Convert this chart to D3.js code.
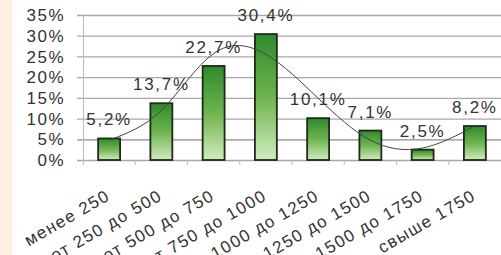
<!DOCTYPE html>
<html>
<head>
<meta charset="utf-8">
<script src="https://d3js.org/d3.v7.min.js"></script>
<style>
  body { margin: 0; background: #fff; }
  text { font-family: 'Liberation Sans', Arial, sans-serif; fill: #333; }
</style>
</head>
<body>
<div id="viz"></div>
<script>
// data
var categories = ["менее 250", "от 250 до 500", "от 500 до 750", "от 750 до 1000",
  "от 1000 до 1250", "от 1250 до 1500", "от 1500 до 1750", "свыше 1750"];
var shares = [5.2, 13.7, 22.7, 30.4, 10.1, 7.1, 2.5, 8.2];
var valueLabels = ["5,2%", "13,7%", "22,7%", "30,4%", "10,1%", "7,1%", "2,5%", "8,2%"];
// smoothed trend line, read at each category centre
var trend = [4.8, 12.0, 25.7, 25.5, 14.9, 4.8, 2.9, 8.2];
var yTicks = [0, 5, 10, 15, 20, 25, 30, 35];

var width = 501, height = 255;

var svg = d3.select("#viz").append("svg")
  .attr("width", width)
  .attr("height", height);

// peach strip on the left edge
svg.append("rect")
  .attr("x", 0).attr("y", 0)
  .attr("width", 12).attr("height", height)
  .attr("fill", "#fdf0e3");

var x = d3.scaleBand()
  .domain(categories)
  .range([83, 501])
  .paddingInner(0.58)
  .paddingOuter(0.29);

var y = d3.scaleLinear()
  .domain([0, 35])
  .range([160, 15]);

var grad = svg.append("defs").append("linearGradient")
  .attr("id", "barGrad")
  .attr("x1", 0).attr("y1", 0).attr("x2", 0).attr("y2", 1);
grad.append("stop").attr("offset", "0%").attr("stop-color", "#2f8a2c");
grad.append("stop").attr("offset", "50%").attr("stop-color", "#6fb350");
grad.append("stop").attr("offset", "100%").attr("stop-color", "#d2ecbf");

// gridlines
svg.append("g")
  .selectAll("line")
  .data(yTicks)
  .enter().append("line")
  .attr("x1", 77).attr("x2", 501)
  .attr("y1", function(d) { return y(d) + 0.5; })
  .attr("y2", function(d) { return y(d) + 0.5; })
  .attr("stroke", function(d) { return d == 5 ? "#8a8a8a" : "#a8a8a8"; })
  .attr("stroke-width", 1.3);

// y axis line
svg.append("line")
  .attr("x1", 83.5).attr("x2", 83.5)
  .attr("y1", y(35)).attr("y2", y(0) + 5)
  .attr("stroke", "#bbb");

// category tick marks between bars
svg.append("g")
  .selectAll("line")
  .data(categories.slice(1))
  .enter().append("line")
  .attr("x1", function(d) { return x(d) - x.step() * x.paddingInner() / 2; })
  .attr("x2", function(d) { return x(d) - x.step() * x.paddingInner() / 2; })
  .attr("y1", y(0)).attr("y2", y(0) + 5)
  .attr("stroke", "#bbb");

// y labels
svg.append("g")
  .selectAll("text")
  .data(yTicks)
  .enter().append("text")
  .attr("x", 65)
  .attr("y", function(d) { return y(d); })
  .attr("dy", "0.36em")
  .attr("text-anchor", "end")
  .style("font-size", "17px")
  .style("letter-spacing", "1.5px")
  .text(function(d) { return d + "%"; });

// bars
svg.append("g")
  .selectAll("rect")
  .data(shares)
  .enter().append("rect")
  .attr("x", function(d, i) { return x(categories[i]); })
  .attr("y", function(d) { return y(d); })
  .attr("width", x.bandwidth())
  .attr("height", function(d) { return y(0) - y(d); })
  .attr("fill", "url(#barGrad)")
  .attr("stroke", "#1c2a18")
  .attr("stroke-width", 1.8);

// trend curve
var line = d3.line()
  .x(function(d, i) { return x(categories[i]) + x.bandwidth() / 2; })
  .y(function(d) { return y(d); })
  .curve(d3.curveNatural);

svg.append("path")
  .datum(trend)
  .attr("d", line)
  .attr("fill", "none")
  .attr("stroke", "#444")
  .attr("stroke-width", 1);

// value labels
svg.append("g")
  .selectAll("text")
  .data(shares)
  .enter().append("text")
  .attr("x", function(d, i) { return x(categories[i]) + x.bandwidth() / 2; })
  .attr("y", function(d) { return y(d) - 13; })
  .attr("text-anchor", "middle")
  .style("font-size", "17px")
  .style("letter-spacing", "1.7px")
  .text(function(d, i) { return valueLabels[i]; });

// category labels (bottom ones run off the edge, as in the original)
svg.append("g")
  .selectAll("text")
  .data(categories)
  .enter().append("text")
  .attr("transform", function(d) {
    return "translate(" + (x(d) + x.bandwidth() / 2 + 2) + "," + 199 + ") rotate(-30)";
  })
  .attr("text-anchor", "end")
  .style("font-size", "17px")
  .style("letter-spacing", "1.4px")
  .text(function(d) { return d; });
</script>
</body>
</html>
